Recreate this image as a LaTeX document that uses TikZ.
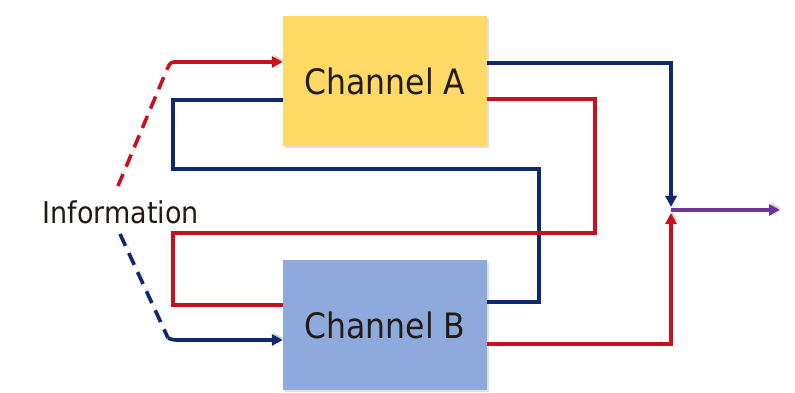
\documentclass[tikz,border=0pt]{standalone}
\usepackage{fontspec}
\setmainfont{DejaVu Sans Condensed}
\usetikzlibrary{arrows.meta,calc,shadows}
\definecolor{boxgold}{RGB}{255,217,102}
\definecolor{boxblue}{RGB}{142,169,219}
\definecolor{linered}{RGB}{200,16,30}
\definecolor{linenavy}{RGB}{16,40,110}
\definecolor{linepurple}{RGB}{112,48,160}
\definecolor{txtdark}{RGB}{34,28,20}
\begin{document}
\begin{tikzpicture}[x=1pt,y=-1pt,
  chanbox/.style={draw=none,minimum width=204pt,minimum height=130pt,inner sep=0pt,
    font=\fontsize{35}{40}\selectfont,text=txtdark,
    drop shadow={shadow xshift=2pt,shadow yshift=-2pt,opacity=0.25}},
  wire/.style={line width=3.6pt,line join=miter,
    preaction={draw=black,opacity=0.12,transform canvas={shift={(1.5pt,2pt)}}}},
  redwire/.style={wire,draw=linered},
  navywire/.style={wire,draw=linenavy},
  tip/.style={-{Triangle[length=11pt,width=11pt]}},
  dashwire/.style={dash pattern=on 13pt off 8pt}]
\useasboundingbox (0,0) rectangle (795,392);

% the two channels
\node[chanbox,fill=boxgold] (A) at (385,81) {Channel A};
\node[chanbox,fill=boxblue] (B) at (385,325) {Channel B};
\node[font=\fontsize{30}{34}\selectfont,text=txtdark] (info) at (121,212) {Information};

% turning points of the wires
\coordinate (rtop) at (168,67);
\coordinate (nbot) at (168,338);
\coordinate (join) at (671,210);
\coordinate (out) at (780,210);

% information split into both channels
\draw[redwire,dashwire] (118,186) -- (rtop);
\draw[redwire,tip,rounded corners=3pt] (rtop) -- (171,62) -- (A.west |- 0,62);
\draw[navywire,dashwire] (120,234) -- (nbot);
\draw[navywire,tip,rounded corners=3pt] (nbot) -- (173,340) -- (B.west |- 0,340);

% cross connections between the channels
\draw[navywire] (A.west |- 0,100) -- (173,100) -- (173,169) -- (539,169) -- (539,302) -- (B.east |- 0,302);
\draw[redwire] (A.east |- 0,99) -- (595,99) -- (595,233) -- (173,233) -- (173,305) -- (B.west |- 0,305);

% outputs to the combiner
\draw[navywire,tip] (A.east |- 0,63) -- (671,63) -- ($(join)+(0,-3)$);
\draw[redwire,tip] (B.east |- 0,344) -- (671,344) -- ($(join)+(0,3)$);
\draw[wire,draw=linepurple,tip] (join) -- (out);
\end{tikzpicture}
\end{document}
